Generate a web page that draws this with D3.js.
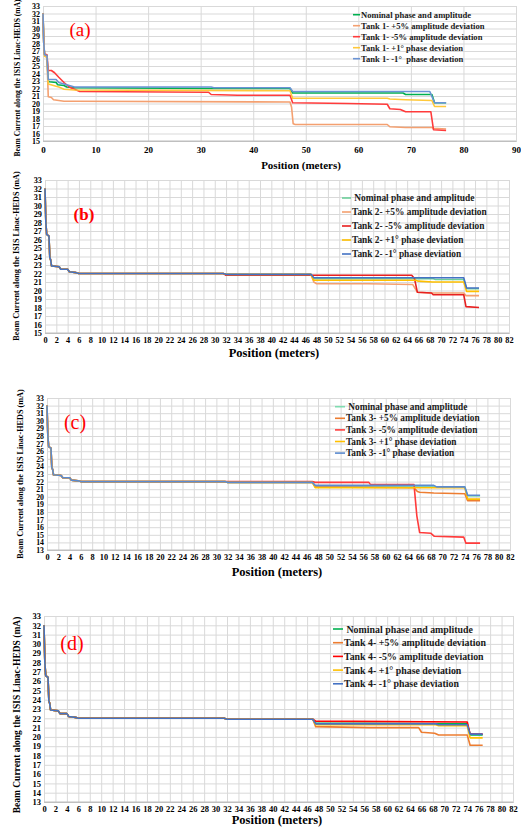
<!DOCTYPE html>
<html>
<head>
<meta charset="utf-8">
<script src="https://cdn.jsdelivr.net/npm/d3@7"></script>
<style>
  body { margin: 0; background: #fff; }
  text { font-family: "Liberation Serif", "Times New Roman", serif; }
</style>
</head>
<body>
<div id="chart"></div>
<script>
// ---- tick labels ----
const xTicksA = [0, 10, 20, 30, 40, 50, 60, 70, 80, 90];
const xTicksBCD = [0,2,4,6,8,10,12,14,16,18,20,22,24,26,28,30,32,34,36,38,40,
  42,44,46,48,50,52,54,56,58,60,62,64,66,68,70,72,74,76,78,80,82];
const yTicks15 = [15,16,17,18,19,20,21,22,23,24,25,26,27,28,29,30,31,32,33];
const yTicks13 = [13,14,15,16,17,18,19,20,21,22,23,24,25,26,27,28,29,30,31,32,33];

// ---- legend names ----
const namesA = ["Nominal phase and amplitude", "Tank 1- +5% amplitude deviation",
  "Tank 1- -5% amplitude deviation", "Tank 1- +1° phase deviation", "Tank 1- -1°  phase deviation"];
const namesB = ["\u00a0Nominal phase and amplitude", "Tank 2- +5% amplitude deviation",
  "Tank 2- -5% amplitude deviation", "Tank 2- +1° phase deviation", "Tank 2- -1° phase deviation"];
const namesC = ["\u00a0Nominal phase and amplitude", "Tank 3- +5% amplitude deviation",
  "Tank 3- -5% amplitude deviation", "Tank 3- +1° phase deviation", "Tank 3- -1° phase deviation"];
const namesD = ["\u00a0Nominal phase and amplitude", "Tank 4- +5% amplitude deviation",
  "Tank 4- -5% amplitude deviation", "Tank 4- +1° phase deviation", "Tank 4- -1° phase deviation"];

// ---- panel (a) : tank 1 ----
const a_nominal = [[0,32],[0.15,28],[0.3,26.5],[0.75,26.4],[1.0,23.0],[1.2,22.9],[2.5,22.8],[2.8,22.5],
  [4.0,22.4],[4.5,22.2],[6,22.1],[32,22.0],[47,22.0],[47.5,21.4],[68.5,21.4],[69,21.2],[74,21.2],[74.5,20.1],[76.7,20.1]];
const a_plus5 = [[0,32],[0.15,28],[0.3,26.3],[0.75,26.2],[1.0,20.9],[1.6,20.8],[2.0,20.5],[4,20.3],[6,20.3],
  [47,20.2],[47.3,19.5],[47.6,17.3],[48,17.2],[65.5,17.2],[66,16.9],[69,16.8],[74,16.8],[74.3,16.7],[76.7,16.6]];
const a_minus5 = [[0,32],[0.15,28],[0.3,26.6],[0.75,26.5],[1.0,24.4],[1.6,24.4],[2.2,24.1],[3,23.5],[4,22.8],
  [5,22.2],[6,21.9],[7,21.6],[31.5,21.5],[32,21.2],[37,21.1],[47,21.1],[47.5,20.1],[58,20.0],[65.5,19.9],[66,19.3],
  [68,19.2],[69,18.9],[73.8,18.9],[74.3,16.5],[76.7,16.4]];
const a_plus1 = [[0,32],[0.15,28],[0.3,26.3],[0.75,26.2],[1.0,22.6],[2,22.4],[3,22.2],[4,21.9],[6,21.8],
  [47,21.7],[47.5,20.7],[65.5,20.7],[66,20.6],[69,20.5],[74,20.4],[74.5,19.6],[76.7,19.6]];
const a_minus1 = [[0,32],[0.15,28],[0.3,26.5],[0.75,26.4],[1.0,23.2],[2.5,23.2],[3,22.8],[4,22.6],[5,22.4],
  [6,22.2],[32,22.2],[32.5,22.1],[47,22.1],[47.5,21.6],[73.6,21.6],[74.5,20.1],[76.7,20.1]];

// ---- shared start of tanks 2-4 (all five runs coincide here) ----
const commonHead = [[0,32],[0.15,28],[0.3,26.6],[0.7,26.4],[0.85,23.9],[1.0,23.6],[1.15,22.9],[2.5,22.8],
  [2.8,22.5],[4.0,22.5],[4.3,22.2],[5.5,22.1],[6.0,22.0],[31.5,22.0]];

// ---- panel (b) : tank 2 ----
const b_nominal = [[32,21.9],[47,21.9],[47.5,21.4],[68.5,21.4],[69,21.3],[74,21.3],[74.5,20.2],[76.7,20.2]];
const b_plus5 = [[32,21.9],[47,21.9],[47.5,21.0],[48,20.8],[57,20.8],[65,20.7],[65.8,19.8],[68.3,19.7],
  [74,19.7],[74.4,19.4],[76.7,19.4]];
const b_minus5 = [[32,21.8],[47,21.8],[64.8,21.8],[65.3,21.4],[65.8,19.8],[68.3,19.7],[68.6,19.5],[74,19.5],
  [74.4,18.1],[76.7,18.0]];
const b_plus1 = [[32,21.9],[47,21.9],[47.5,21.2],[65.5,21.2],[66,21.1],[68.5,21.0],[74,21.0],[74.5,19.9],[76.7,19.9]];
const b_minus1 = [[32,21.9],[47,21.9],[47.5,21.5],[74,21.5],[74.5,20.3],[76.7,20.3]];

// ---- panel (c) : tank 3 ----
const c_nominal = [[32,21.9],[47,21.9],[47.5,21.4],[68.5,21.4],[69,21.3],[74,21.3],[74.5,20.1],[76.7,20.1]];
const c_plus5 = [[32,21.9],[47,21.9],[47.5,21.3],[65,21.2],[65.6,20.7],[66,20.6],[68.5,20.5],[74,20.4],
  [74.5,19.5],[76.7,19.5]];
const c_minus5 = [[32,22.0],[47,22.0],[47.5,21.9],[57,21.9],[57.3,21.6],[65,21.6],[65.5,17.5],[66,15.3],
  [68,15.2],[68.6,14.8],[73.8,14.7],[74.2,13.9],[76.7,13.9]];
const c_plus1 = [[32,21.9],[47,21.9],[47.5,21.2],[74,21.2],[74.5,19.7],[76.7,19.7]];
const c_minus1 = [[32,21.9],[47,21.9],[47.5,21.5],[68.5,21.5],[69,21.3],[74,21.3],[74.5,20.2],[76.7,20.2]];

// ---- panel (d) : tank 4 ----
const d_nominal = [[32,21.9],[47,21.9],[47.5,21.5],[74,21.4],[74.5,20.2],[76.7,20.2]];
const d_plus5 = [[32,21.9],[47,21.9],[47.5,21.1],[57,21.0],[65.5,21.0],[66,20.5],[68.3,20.4],[69,20.2],
  [74,20.2],[74.5,19.1],[76.7,19.1]];
const d_minus5 = [[32,21.9],[47,21.9],[47.5,21.7],[74,21.6],[74.5,20.3],[76.7,20.3]];
const d_plus1 = [[32,21.9],[47,21.9],[47.5,21.3],[68.5,21.3],[69,21.2],[74,21.2],[74.5,19.9],[76.7,19.9]];
const d_minus1 = [[32,21.9],[47,21.9],[47.5,21.4],[68.5,21.4],[69,21.3],[74,21.3],[74.5,20.3],[76.7,20.3]];

const svg = d3.select("#chart").append("svg")
  .attr("width", 521)
  .attr("height", 836);

function drawPanel(p) {
  const x = d3.scaleLinear().domain(p.xDomain).range([p.left, p.right]);
  const y = d3.scaleLinear().domain(p.yDomain).range([p.bottom, p.top]);
  const g = svg.append("g");

  // horizontal grid + y labels
  g.append("g")
    .attr("transform", "translate(" + p.left + ",0)")
    .call(d3.axisLeft(y).tickValues(p.yTicks).tickSize(-(p.right - p.left)).tickPadding(3))
    .call(s => s.select(".domain").remove())
    .call(s => s.selectAll("line").attr("stroke", "#d9d9d9"))
    .call(s => s.selectAll("text").attr("font-family", "Liberation Serif").attr("font-weight", "bold")
      .attr("font-size", p.tickFont).attr("fill", "#000"));

  // vertical grid + x labels
  g.append("g")
    .attr("transform", "translate(0," + p.bottom + ")")
    .call(d3.axisBottom(x).tickValues(p.xTicks).tickSize(-(p.bottom - p.top)).tickPadding(p.xPad))
    .call(s => s.select(".domain").attr("stroke", "#bfbfbf"))
    .call(s => s.selectAll("line").attr("stroke", "#d9d9d9"))
    .call(s => s.selectAll("text").attr("font-family", "Liberation Serif").attr("font-weight", "bold")
      .attr("font-size", p.xTickFont).attr("fill", "#000"));

  g.append("line")
    .attr("x1", p.left).attr("x2", p.right)
    .attr("y1", p.bottom).attr("y2", p.bottom)
    .attr("stroke", "#bfbfbf");

  const line = d3.line()
    .x(d => x(d[0]))
    .y(d => y(d[1]));

  p.series.forEach((s, i) => {
    g.append("path")
      .datum(s)
      .attr("d", line)
      .attr("fill", "none")
      .attr("stroke", p.colors[i])
      .attr("stroke-width", 1.6)
      .attr("stroke-linejoin", "round");
  });

  // legend
  p.names.forEach((n, i) => {
    const ly = p.legY + i * p.legGap;
    g.append("line")
      .attr("x1", p.legX1).attr("x2", p.legX2)
      .attr("y1", ly).attr("y2", ly)
      .attr("stroke", p.colors[i]).attr("stroke-width", 1.6);
    g.append("text")
      .attr("x", p.legX2 + 1).attr("y", ly)
      .attr("dominant-baseline", "central")
      .style("white-space", "pre")
      .attr("font-weight", "bold")
      .attr("font-size", p.legFont)
      .attr("fill", "#1a1a1a")
      .text(n);
  });

  // panel label
  g.append("text")
    .attr("x", p.labX).attr("y", p.labY)
    .attr("text-anchor", "middle")
    .attr("dominant-baseline", "central")
    .attr("font-size", p.labFont)
    .attr("font-weight", p.labWeight)
    .attr("fill", "#ff0000")
    .text(p.label);

  // axis titles
  g.append("text")
    .attr("x", p.xtX).attr("y", p.xtY)
    .attr("text-anchor", "middle")
    .attr("dominant-baseline", "central")
    .attr("font-weight", "bold")
    .attr("font-size", p.xtFont)
    .text("Position (meters)");

  g.append("text")
    .attr("transform", "translate(" + p.ytX + "," + p.ytY + ")rotate(-90)")
    .attr("text-anchor", "middle")
    .attr("dominant-baseline", "central")
    .attr("font-weight", "bold")
    .attr("font-size", p.ytFont)
    .text("Beam Current along the ISIS Linac-HEDS (mA)");
}

drawPanel({
  left: 43, right: 516, top: 6, bottom: 141,
  xDomain: [0, 90], yDomain: [15, 33], xTicks: xTicksA, yTicks: yTicks15,
  tickFont: 8, xTickFont: 9, xPad: 6,
  series: [a_nominal, a_plus5, a_minus5, a_plus1, a_minus1],
  colors: ["#00b050", "#f4a070", "#ff3b3b", "#ffc83a", "#6a93d4"],
  names: namesA, legX1: 353, legX2: 360, legY: 14.7, legGap: 11, legFont: 8.6,
  label: "(a)", labX: 80, labY: 29, labFont: 19, labWeight: "normal",
  xtX: 301, xtY: 165, xtFont: 11, ytX: 17, ytY: 78, ytFont: 7.6
});

drawPanel({
  left: 45, right: 509, top: 180, bottom: 333,
  xDomain: [0, 82], yDomain: [15, 33], xTicks: xTicksBCD, yTicks: yTicks15,
  tickFont: 8.3, xTickFont: 8.3, xPad: 4,
  series: [b_nominal, b_plus5, b_minus5, b_plus1, b_minus1].map(t => commonHead.concat(t)),
  colors: ["#6ccf9a", "#f4a070", "#e82020", "#ffc000", "#4472c4"],
  names: namesB, legX1: 342, legX2: 351, legY: 198, legGap: 14, legFont: 9.4,
  label: "(b)", labX: 84, labY: 214, labFont: 17, labWeight: "bold",
  xtX: 274, xtY: 353, xtFont: 12.5, ytX: 16.7, ytY: 256, ytFont: 8.2
});

drawPanel({
  left: 47, right: 510, top: 398, bottom: 550,
  xDomain: [0, 82], yDomain: [13, 33], xTicks: xTicksBCD, yTicks: yTicks13,
  tickFont: 7.8, xTickFont: 8.3, xPad: 4,
  series: [c_nominal, c_plus5, c_minus5, c_plus1, c_minus1].map(t => commonHead.concat(t)),
  colors: ["#7fdcb0", "#ed7d31", "#ff3b3b", "#ffc000", "#5b8bd0"],
  names: namesC, legX1: 335, legX2: 345, legY: 406.7, legGap: 11.6, legFont: 9.3,
  label: "(c)", labX: 75, labY: 422, labFont: 20, labWeight: "normal",
  xtX: 277, xtY: 572, xtFont: 12.5, ytX: 20.7, ytY: 474, ytFont: 8.2
});

drawPanel({
  left: 44, right: 513, top: 616, bottom: 802,
  xDomain: [0, 82], yDomain: [13, 33], xTicks: xTicksBCD, yTicks: yTicks13,
  tickFont: 8.5, xTickFont: 8.5, xPad: 4,
  series: [d_nominal, d_plus5, d_minus5, d_plus1, d_minus1].map(t => commonHead.concat(t)),
  colors: ["#00b050", "#ed7d31", "#ff0000", "#ffc000", "#4472c4"],
  names: namesD, legX1: 333, legX2: 343, legY: 629, legGap: 13.7, legFont: 9.9,
  label: "(d)", labX: 72, labY: 643, labFont: 20, labWeight: "normal",
  xtX: 277, xtY: 820, xtFont: 12.5, ytX: 17, ytY: 715, ytFont: 9.5
});
</script>
</body>
</html>
